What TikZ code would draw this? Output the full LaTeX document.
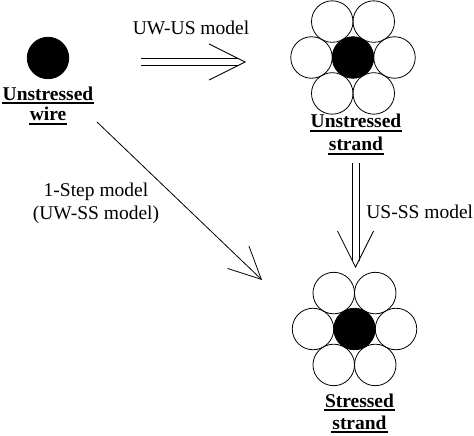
\documentclass[tikz,border=0pt]{standalone}
\usepackage{fontspec}
\setmainfont{Liberation Serif}
\usetikzlibrary{arrows.meta,positioning}

\newcommand{\undr}[1]{\setbox0=\hbox{#1}\rlap{\kern-1pt\vrule width\dimexpr\wd0+2pt\relax height -2.4pt depth 4pt}\box0}

\begin{document}
\begin{tikzpicture}[x=1pt,y=-1pt,line width=0.8pt]
\tikzset{
  strandwire/.style={circle,draw,minimum size=41.5pt,inner sep=0pt},
  corewire/.style={strandwire,fill=black},
  lbl/.style={font=\fontsize{19.5}{23}\selectfont,inner sep=0pt,text height=13pt,text depth=5pt},
  ttl/.style={lbl,font=\fontsize{19.5}{23}\selectfont\bfseries},
  bigtip/.style={draw=white,-{Straight Barb[black,length=36pt,width=36pt]}},
}
\useasboundingbox (0,0) rectangle (474,436);

% wire and strands
\node[corewire] (uw) at (48,58) {};
\node[corewire] (us) at (353,57.5) {};
\foreach \a in {0,60,...,300}
  \path (us) ++(\a:41.5) node[strandwire] (us\a) {};
\node[corewire] (ss) at (354.5,329) {};
\foreach \a in {0,60,...,300}
  \path (ss) ++(\a:41.5) node[strandwire] (ss\a) {};

% titles
\node[ttl] (uwA) at (48,96) {\undr{Unstressed}};
\node[ttl] (uwB) [below of=uwA, node distance=21pt] {\undr{wire}};
\node[ttl] (usA) at (356,124) {\undr{Unstressed}};
\node[ttl] (usB) [below of=usA, node distance=22.5pt] {\undr{strand}};
\node[ttl] (ssA) at (359.5,403) {\undr{Stressed}};
\node[ttl] (ssB) [below of=ssA, node distance=22pt] {\undr{strand}};

% model labels
\node[lbl,anchor=base] (uwus) at (191,35) {UW-US model};
\node[lbl,anchor=base west] (usss) at (366,218) {US-SS model};
\node[lbl] (oneA) at (96,192) {1-Step model};
\node[lbl] (oneB) [below of=oneA, node distance=23pt] {(UW-SS model)};

% arrows
\coordinate (h0) at (141,62);
\coordinate (h1) at (246,62);
\coordinate (v0) at (355.5,163);
\coordinate (v1) at (355.5,268);
\coordinate (d0) at (97,122);
\coordinate (d1) at (262,280);

\foreach \s in {-3.5,3.5} {
  \draw ([yshift=\s pt]h0) -- ([yshift=\s pt,xshift=-7pt]h1);
  \draw ([xshift=\s pt]v0) -- ([xshift=\s pt,yshift=7pt]v1);
}
\draw[bigtip] (h0) -- (h1);
\draw[bigtip] (v0) -- (v1);
\draw[-{Straight Barb[length=32pt,width=31pt]}] (d0) -- (d1);
\end{tikzpicture}
\end{document}
